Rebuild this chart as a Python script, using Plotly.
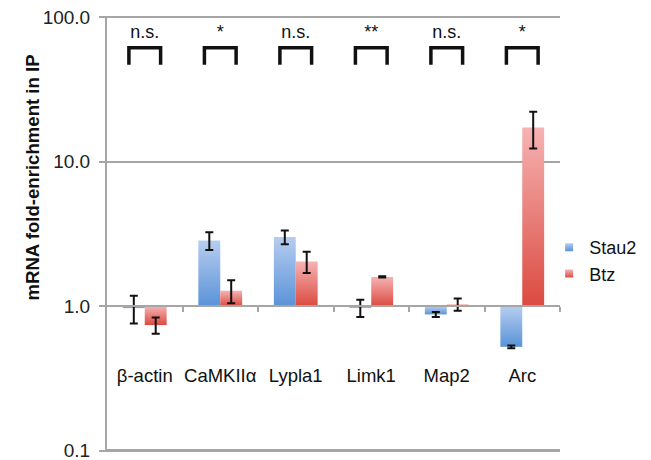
import math
import plotly.graph_objects as go

categories = ["β-actin", "CaMKIIα", "Lypla1", "Limk1", "Map2", "Arc"]
stau2_values = [0.97, 2.85, 3.02, 0.975, 0.877, 0.523]
stau2_errors = [0.21, 0.40, 0.33, 0.135, 0.035, 0.012]
btz_values = [0.74, 1.28, 2.04, 1.595, 1.03, 17.3]
btz_errors = [0.095, 0.23, 0.34, 0.015, 0.10, 4.95]
significance = ["n.s.", "*", "n.s.", "**", "n.s.", "*"]
series_names = ["Stau2", "Btz"]
ytick_vals = [0.1, 1, 10, 100]
ytick_text = ["0.1", "1.0", "10.0", "100.0"]
y_title = "mRNA fold-enrichment in IP"

FONT = "Liberation Sans, Arial, Helvetica, sans-serif"
GRID = "#a6a6a6"
BLUE = ("#5a93d8", "#b6cdf0")   # dark (bottom), light (top)
RED = ("#db4a40", "#f6b3b3")
BASE = 1.0
BAR_W = 0.29
Y_LO, Y_HI = -1.01, 2.01

fig = go.Figure()

def add_bars(values, errors, colors, side, name):
    for i, v in enumerate(values):
        x0 = i + (-BAR_W if side < 0 else 0)
        x1 = x0 + BAR_W
        lo, hi = min(BASE, v), max(BASE, v)
        fig.add_trace(go.Scatter(
            x=[x0, x1, x1, x0, x0], y=[BASE, BASE, v, v, BASE],
            mode="lines", fill="toself", line=dict(width=0),
            fillgradient=dict(type="vertical", start=lo, stop=hi,
                              colorscale=[[0, colors[0]], [1, colors[1]]]),
            showlegend=False, hoverinfo="skip"))
    fig.add_trace(go.Scatter(
        x=[i + side * BAR_W / 2 for i in range(len(values))], y=values,
        mode="markers", marker=dict(size=2, color="rgba(0,0,0,0)"),
        error_y=dict(type="data", array=errors, symmetric=True,
                     color="#111111", thickness=2, width=4),
        showlegend=False, hoverinfo="skip"))
    fig.add_trace(go.Scatter(
        x=[None], y=[None], mode="markers", name=name, legendgroup=name,
        marker=dict(symbol="square", size=8, color=colors[1],
                    gradient=dict(type="vertical", color=colors[0]))))

add_bars(stau2_values, stau2_errors, BLUE, -1, series_names[0])
add_bars(btz_values, btz_errors, RED, 1, series_names[1])

# significance brackets
BR_FOOT, BR_TOP, BR_HALF = 47, 61.6, 0.21
for i, s in enumerate(significance):
    fig.add_trace(go.Scatter(
        x=[i - BR_HALF, i - BR_HALF, i + BR_HALF, i + BR_HALF],
        y=[BR_FOOT, BR_TOP, BR_TOP, BR_FOOT], mode="lines",
        line=dict(color="#111111", width=3.5), showlegend=False, hoverinfo="skip"))
fig.add_trace(go.Scatter(
    x=list(range(len(categories))), y=[77] * len(categories), mode="text",
    text=significance, textfont=dict(family=FONT, size=18, color="#111111"),
    showlegend=False, hoverinfo="skip"))

# category labels
fig.add_trace(go.Scatter(
    x=list(range(len(categories))), y=[0.323] * len(categories), mode="text",
    text=categories, textfont=dict(family=FONT, size=18.5, color="#111111"),
    showlegend=False, hoverinfo="skip"))

# invisible trace on the bottom axis so its line is drawn
fig.add_trace(go.Scatter(x=[None], y=[None], xaxis="x2", yaxis="y",
                         showlegend=False, hoverinfo="skip"))

fig.add_annotation(text="<b>" + y_title + "</b>", textangle=-90,
                   xref="paper", yref="paper", x=-0.165, y=0.63,
                   xanchor="center", yanchor="middle", showarrow=False,
                   font=dict(family=FONT, size=18.6, color="#111111"))

fig.update_layout(
    width=651, height=460,
    margin=dict(l=107, r=91, t=15.5, b=7.5, autoexpand=False),
    paper_bgcolor="white", plot_bgcolor="white",
    font=dict(family=FONT, size=18, color="#222222"),
    legend=dict(x=0.976, y=0.5115, xanchor="left", yanchor="top",
                font=dict(family=FONT, size=18, color="#111111"),
                tracegroupgap=0, itemwidth=30, bgcolor="rgba(0,0,0,0)"),
    xaxis=dict(range=[-0.5, 5.5], showgrid=False, zeroline=False,
               anchor="free", position=(math.log10(BASE) - Y_LO) / (Y_HI - Y_LO),
               automargin=False,
               showline=True, linecolor=GRID, linewidth=2,
               ticks="outside", ticklen=5, tickcolor=GRID, tickwidth=2,
               tickvals=[k + 0.5 for k in range(len(categories))],
               showticklabels=False),
    xaxis2=dict(range=[-0.5, 5.5], overlaying="x", anchor="free", position=0.0048,
                side="bottom", showgrid=False, zeroline=False, automargin=False,
                showline=True, linecolor=GRID, linewidth=2,
                ticks="", showticklabels=False),
    yaxis=dict(type="log", range=[Y_LO, Y_HI], tickvals=ytick_vals, ticktext=ytick_text,
               automargin=False, ticklabeloverflow="allow",
               showgrid=True, gridcolor=GRID, gridwidth=2, zeroline=False,
               showline=True, linecolor=GRID, linewidth=2,
               ticks="outside", ticklen=6, tickcolor=GRID, tickwidth=2,
               ticklabelstandoff=5,
               tickfont=dict(family=FONT, size=19, color="#222222")),
)

fig.write_html("out.html", config={"displayModeBar": False},
               post_script="document.body.style.margin='0';")
